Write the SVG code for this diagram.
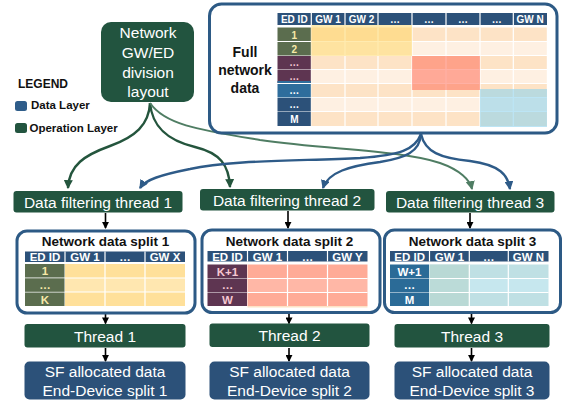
<svg xmlns="http://www.w3.org/2000/svg" width="565" height="403" viewBox="0 0 565 403">
<style>
text{font-family:"Liberation Sans",Arial,sans-serif}
.op{fill:#22543f}
.dl{fill:#2c5179}
.wt{fill:#fff;font-size:15.5px;text-anchor:middle}
.hd{fill:#fff;font-size:10px;font-weight:bold;text-anchor:middle}
.hd2{fill:#fff;font-size:11.5px;font-weight:bold;text-anchor:middle}
.ttl{fill:#111;font-size:13.5px;font-weight:bold;text-anchor:middle}
.frame{fill:#fff;stroke:#2d5a85;stroke-width:3}
.grid{stroke:#fff;stroke-width:1.2}
.blk{stroke:#000;stroke-width:1.6;fill:none}
.cg{stroke:#24553d;stroke-width:2.4;fill:none}
.cl{stroke:#4f7d63;stroke-width:2;fill:none}
.cb{stroke:#2e5b88;stroke-width:2.4;fill:none}
</style>
<defs>
<marker id="ak" viewBox="0 0 8 8" refX="7" refY="4" markerWidth="7" markerHeight="7" markerUnits="userSpaceOnUse" orient="auto"><path d="M0,0 L8,4 L0,8 z" fill="#000"/></marker>
<marker id="ag" viewBox="0 0 8 8" refX="7" refY="4" markerWidth="9" markerHeight="9" markerUnits="userSpaceOnUse" orient="auto"><path d="M0,0 L8,4 L0,8 z" fill="#24553d"/></marker>
<marker id="al" viewBox="0 0 8 8" refX="7" refY="4" markerWidth="9" markerHeight="9" markerUnits="userSpaceOnUse" orient="auto"><path d="M0,0 L8,4 L0,8 z" fill="#4f7d63"/></marker>
<marker id="ab" viewBox="0 0 8 8" refX="7" refY="4" markerWidth="9" markerHeight="9" markerUnits="userSpaceOnUse" orient="auto"><path d="M0,0 L8,4 L0,8 z" fill="#2e5b88"/></marker>
</defs>

<rect width="565" height="403" fill="#fff"/>

<g id="legend">
<text x="18" y="88" font-size="12" font-weight="bold" fill="#111">LEGEND</text>
<rect x="15" y="101" width="12" height="10" rx="2.5" fill="#2f5d8a"/>
<text x="31" y="109" font-size="11.5" font-weight="bold" fill="#111">Data Layer</text>
<rect x="15" y="123" width="12" height="10" rx="2.5" fill="#22543f"/>
<text x="29.5" y="131.5" font-size="11.5" font-weight="bold" fill="#111">Operation Layer</text>
</g>

<g id="connectors">
<path class="cg" d="M150,103 C149,125 135,137 110,146 C85,155 69,165 68,188" marker-end="url(#ag)"/>
<path class="cg" d="M150,103 C152,125 165,140 195,147 C220,153 229,165 230,187" marker-end="url(#ag)"/>
<path class="cl" d="M150,103 C165,125 200,130 260,140 C330,150 400,150 440,163 C460,170 470,180 472,189" marker-end="url(#al)"/>
<path class="cb" d="M421,134 C415,150 400,155 360,158 C300,161 230,160 190,169 C160,175 145,180 140,188" marker-end="url(#ab)"/>
<path class="cb" d="M421,134 C420,152 405,158 380,162 C350,166 328,172 323,188" marker-end="url(#ab)"/>
<path class="cb" d="M421,134 C425,152 440,158 470,161 C500,165 508,175 510,189" marker-end="url(#ab)"/>
<path class="blk" d="M105.5,213 V228" marker-end="url(#ak)"/>
<path class="blk" d="M288,211 V228" marker-end="url(#ak)"/>
<path class="blk" d="M470,213 V228" marker-end="url(#ak)"/>
<path class="blk" d="M105.5,314 V323.5" marker-end="url(#ak)"/>
<path class="blk" d="M289,313 V323.5" marker-end="url(#ak)"/>
<path class="blk" d="M471.5,313 V323.5" marker-end="url(#ak)"/>
<path class="blk" d="M105.5,348 V361" marker-end="url(#ak)"/>
<path class="blk" d="M289,348 V361" marker-end="url(#ak)"/>
<path class="blk" d="M471.5,348 V361" marker-end="url(#ak)"/>
</g>

<g id="node-layout">
<rect class="op" x="101" y="22" width="93" height="80" rx="10"/>
<text class="wt" x="148" y="38">Network</text>
<text class="wt" x="148" y="58">GW/ED</text>
<text class="wt" x="148" y="78">division</text>
<text class="wt" x="148" y="97">layout</text>
</g>

<g id="node-full-data">
<rect class="frame" x="209.5" y="4" width="347.5" height="129" rx="12"/>
<text class="ttl" x="245" y="57" font-size="14" style="font-size:14px">Full</text>
<text class="ttl" x="245" y="75" style="font-size:14px">network</text>
<text class="ttl" x="245" y="93" style="font-size:14px">data</text>
<!-- header -->
<rect class="dl" x="277.5" y="13" width="269.5" height="12"/>
<path class="grid" d="M311.3,13 V25 M345,13 V25 M378,13 V25 M412,13 V25 M446,13 V25 M480,13 V25 M513.3,13 V25"/>
<text class="hd" x="294.3" y="22.5">ED ID</text>
<text class="hd" x="328" y="22.5">GW 1</text>
<text class="hd" x="361.5" y="22.5">GW 2</text>
<text class="hd" x="395" y="22.5">…</text>
<text class="hd" x="429" y="22.5">…</text>
<text class="hd" x="463" y="22.5">…</text>
<text class="hd" x="496.7" y="22.5">…</text>
<text class="hd" x="530" y="22.5">GW N</text>
<!-- data stripes -->
<rect x="311.3" y="27.5" width="235.5" height="14" fill="#fde3c6"/>
<rect x="311.3" y="41.5" width="235.5" height="14" fill="#fef0e2"/>
<rect x="311.3" y="55.5" width="235.5" height="14" fill="#fde3c6"/>
<rect x="311.3" y="69.5" width="235.5" height="14" fill="#fef0e2"/>
<rect x="311.3" y="83.5" width="235.5" height="14" fill="#fde3c6"/>
<rect x="311.3" y="97.5" width="235.5" height="14" fill="#fef0e2"/>
<rect x="311.3" y="111.5" width="235.5" height="14.5" fill="#fde3c6"/>
<path class="grid" d="M311.3,41.5 H547 M311.3,55.5 H547 M311.3,69.5 H547 M311.3,83.5 H547 M311.3,97.5 H547 M311.3,111.5 H547 M345,27.5 V126 M378,27.5 V126 M412,27.5 V126 M446,27.5 V126 M480,27.5 V126 M513.3,27.5 V126"/>
<rect x="311.3" y="25" width="100.7" height="31" fill="#ffd24f" opacity="0.45"/>
<rect x="412" y="56" width="68" height="34" fill="#ff6f5a" opacity="0.55"/>
<rect x="480" y="89" width="67" height="38" fill="#8fd3ef" opacity="0.6"/>
<!-- ED column -->
<rect x="277.5" y="27.5" width="33.3" height="13.5" fill="#5b6d4e"/>
<rect x="277.5" y="42" width="33.3" height="13.5" fill="#5b6d4e"/>
<rect x="277.5" y="56" width="33.3" height="13" fill="#5e3551"/>
<rect x="277.5" y="69.5" width="33.3" height="13.5" fill="#5e3551"/>
<rect x="277.5" y="81" width="33.3" height="2" fill="#2e6d9c"/>
<rect x="277.5" y="84" width="33.3" height="13.5" fill="#2e6d9c"/>
<rect x="277.5" y="98" width="33.3" height="13.5" fill="#2c5179"/>
<rect x="277.5" y="112" width="33.3" height="14" fill="#2c5179"/>
<g font-size="10" font-weight="bold" text-anchor="middle">
<text x="294.3" y="38.5" fill="#f7e9a8">1</text>
<text x="294.3" y="52.5" fill="#f7e9a8">2</text>
<text x="294.3" y="66" fill="#f4c6d0">…</text>
<text x="294.3" y="80" fill="#f4c6d0">…</text>
<text x="294.3" y="94" fill="#fff">…</text>
<text x="294.3" y="108" fill="#fff">…</text>
<text x="294.3" y="123" fill="#fff">M</text>
</g>
</g>

<g id="node-filter-1">
<rect class="op" x="13.5" y="191" width="169" height="21.5" rx="3"/>
<text class="wt" x="98" y="207.5">Data filtering thread 1</text>
</g>
<g id="node-filter-2">
<rect class="op" x="200" y="189" width="174.5" height="21.5" rx="3"/>
<text class="wt" x="287" y="205.5">Data filtering thread 2</text>
</g>
<g id="node-filter-3">
<rect class="op" x="386" y="191" width="168.5" height="21.5" rx="3"/>
<text class="wt" x="470" y="207.5">Data filtering thread 3</text>
</g>

<g id="node-split-1">
<rect class="frame" x="17" y="231" width="178" height="82" rx="10"/>
<text class="ttl" x="105.5" y="246">Network data split 1</text>
<rect class="dl" x="25" y="251.5" width="160" height="10.5"/>
<path class="grid" d="M65,251.5 V262 M105,251.5 V262 M145,251.5 V262"/>
<text class="hd2" x="45" y="261">ED ID</text>
<text class="hd2" x="85" y="261">GW 1</text>
<text class="hd2" x="125" y="261">…</text>
<text class="hd2" x="165" y="261">GW X</text>
<rect x="65" y="264" width="120" height="14" fill="#ffe09a"/>
<rect x="65" y="278" width="120" height="14" fill="#ffe7b0"/>
<rect x="65" y="292" width="120" height="14" fill="#ffe09a"/>
<path class="grid" d="M65,278 H185 M65,292 H185 M105,264 V306 M145,264 V306"/>
<rect x="25" y="264" width="39.5" height="13.5" fill="#5b6d4e"/>
<rect x="25" y="278.3" width="39.5" height="13.5" fill="#5b6d4e"/>
<rect x="25" y="292.5" width="39.5" height="13.5" fill="#5b6d4e"/>
<g font-size="11.5" font-weight="bold" text-anchor="middle" fill="#f7e9a8">
<text x="45" y="275">1</text>
<text x="45" y="289">…</text>
<text x="45" y="303.5">K</text>
</g>
</g>

<g id="node-split-2">
<rect class="frame" x="202" y="230" width="178" height="82.5" rx="10"/>
<text class="ttl" x="289.5" y="245.5">Network data split 2</text>
<rect class="dl" x="207.5" y="251" width="160" height="10.5"/>
<path class="grid" d="M247.5,251 V261.5 M287.5,251 V261.5 M327.5,251 V261.5"/>
<text class="hd2" x="227.5" y="260.5">ED ID</text>
<text class="hd2" x="267.5" y="260.5">GW 1</text>
<text class="hd2" x="307.5" y="260.5">…</text>
<text class="hd2" x="347.5" y="260.5">GW Y</text>
<rect x="247.5" y="264.5" width="120" height="14" fill="#ffab97"/>
<rect x="247.5" y="278.5" width="120" height="14" fill="#ffb7a6"/>
<rect x="247.5" y="292.5" width="120" height="13.5" fill="#ffab97"/>
<rect x="247.5" y="306" width="120" height="1.5" fill="#fde3c6"/>
<path class="grid" d="M247.5,278.5 H367.5 M247.5,292.5 H367.5 M287.5,264.5 V306 M327.5,264.5 V306"/>
<rect x="207.5" y="264.5" width="39.5" height="13.5" fill="#5e3551"/>
<rect x="207.5" y="278.5" width="39.5" height="13.5" fill="#5e3551"/>
<rect x="207.5" y="292.5" width="39.5" height="13.5" fill="#5e3551"/>
<g font-size="11.5" font-weight="bold" text-anchor="middle" fill="#f6c8d2">
<text x="227.5" y="275.5">K+1</text>
<text x="227.5" y="289">…</text>
<text x="227.5" y="303.5">W</text>
</g>
</g>

<g id="node-split-3">
<rect class="frame" x="384.5" y="230" width="176" height="82.5" rx="10"/>
<text class="ttl" x="472.5" y="245.5">Network data split 3</text>
<rect class="dl" x="390" y="251" width="158.5" height="10.5"/>
<path class="grid" d="M429.5,251 V261.5 M469.3,251 V261.5 M508.3,251 V261.5"/>
<text class="hd2" x="409.7" y="260.5">ED ID</text>
<text class="hd2" x="449.4" y="260.5">GW 1</text>
<text class="hd2" x="488.8" y="260.5">…</text>
<text class="hd2" x="528.4" y="260.5">GW N</text>
<rect x="429.5" y="264.5" width="119" height="14" fill="#bfe0e4"/>
<rect x="429.5" y="278.5" width="119" height="14" fill="#c6e7ee"/>
<rect x="429.5" y="292.5" width="119" height="13.5" fill="#bfe0e4"/>
<rect x="429.5" y="264.5" width="39.8" height="41.5" fill="#b6d6cf" opacity="0.7"/>
<path class="grid" d="M429.5,278.5 H548.5 M429.5,292.5 H548.5 M469.3,264.5 V306 M508.3,264.5 V306"/>
<rect x="390" y="264.5" width="39" height="13.5" fill="#2b6b97"/>
<rect x="390" y="278.5" width="39" height="13.5" fill="#2b6b97"/>
<rect x="390" y="292.5" width="39" height="13.5" fill="#2b6b97"/>
<g font-size="11.5" font-weight="bold" text-anchor="middle" fill="#fff">
<text x="409.5" y="275.5">W+1</text>
<text x="409.5" y="289">…</text>
<text x="409.5" y="303.5">M</text>
</g>
</g>

<g id="node-thread-1">
<rect class="op" x="24.5" y="324" width="161" height="23.5" rx="3"/>
<text class="wt" x="105" y="341.5">Thread 1</text>
</g>
<g id="node-thread-2">
<rect class="op" x="209.5" y="323.5" width="160" height="23.5" rx="3"/>
<text class="wt" x="289.5" y="341">Thread 2</text>
</g>
<g id="node-thread-3">
<rect class="op" x="394.5" y="324" width="155" height="23.5" rx="3"/>
<text class="wt" x="472" y="341.5">Thread 3</text>
</g>

<g id="node-sf-1">
<rect class="dl" x="24.5" y="361.5" width="161" height="38" rx="5"/>
<text class="wt" x="105" y="377">SF allocated data</text>
<text class="wt" x="105" y="396">End-Device split 1</text>
</g>
<g id="node-sf-2">
<rect class="dl" x="209.5" y="361.5" width="160" height="38" rx="5"/>
<text class="wt" x="289.5" y="377">SF allocated data</text>
<text class="wt" x="289.5" y="396">End-Device split 2</text>
</g>
<g id="node-sf-3">
<rect class="dl" x="394.5" y="361.5" width="155" height="38" rx="5"/>
<text class="wt" x="472" y="377">SF allocated data</text>
<text class="wt" x="472" y="396">End-Device split 3</text>
</g>
</svg>
